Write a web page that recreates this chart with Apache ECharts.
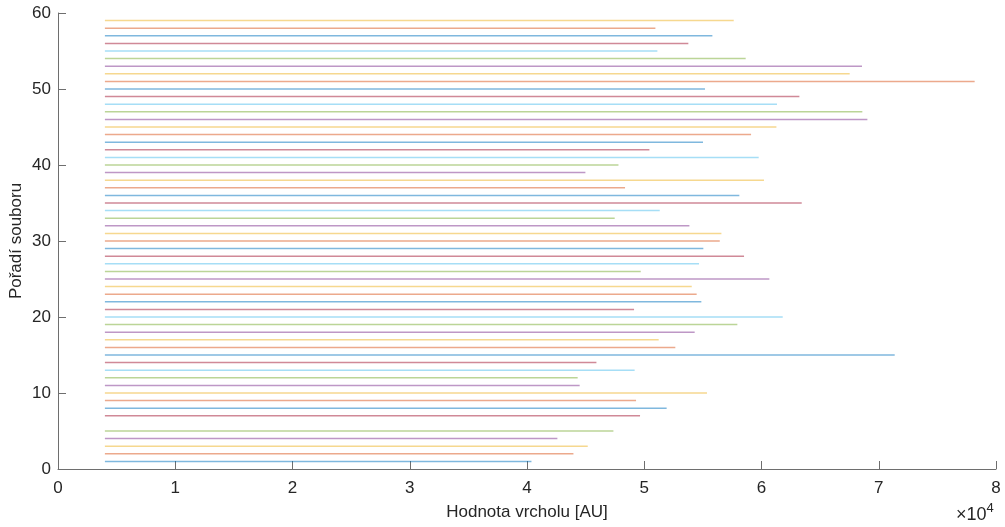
<!DOCTYPE html>
<html>
<head>
<meta charset="utf-8">
<script src="https://cdn.jsdelivr.net/npm/echarts@6/dist/echarts.min.js"></script>
<style>
  html, body { margin: 0; padding: 0; background: #fff; }
  #chart { width: 1005px; height: 527px; }
</style>
</head>
<body>
<div id="chart"></div>
<script>
// File order (y) and peak value (x end) of each horizontal segment
const fileOrder = [1, 2, 3, 4, 5, 7, 8, 9, 10, 11, 12, 13, 14, 15, 16, 17, 18, 19, 20,
  21, 22, 23, 24, 25, 26, 27, 28, 29, 30, 31, 32, 33, 34, 35, 36, 37, 38, 39, 40,
  41, 42, 43, 44, 45, 46, 47, 48, 49, 50, 51, 52, 53, 54, 55, 56, 57, 58, 59];
const peakValues = [40380, 43960, 45180, 42590, 47370, 49640, 51910, 49300, 55350, 44490,
  44320, 49180, 45920, 71360, 52650, 51230, 54300, 57940, 61810,
  49130, 54870, 54470, 54050, 60670, 49700, 54670, 58510, 55040, 56440,
  56580, 53850, 47480, 51320, 63430, 58110, 48360, 60210, 44980, 47800,
  59760, 50440, 55010, 59110, 61270, 69030, 68600, 61320, 63230, 55180,
  78180, 67520, 68570, 58650, 51120, 53760, 55810, 50950, 57630];
const startValue = 4000;
const xTicks = [0, 1, 2, 3, 4, 5, 6, 7, 8];
const yTicks = [0, 10, 20, 30, 40, 50, 60];

// Default MATLAB-like color order, cycled by file index
const palette = ['#0072BD', '#D95319', '#EDB120', '#7E2F8E', '#77AC30', '#4DBEEE', '#A2142F'];

const series = fileOrder.map((y, i) => ({
  type: 'line',
  data: [[startValue, y], [peakValues[i], y]],
  showSymbol: false,
  symbol: 'none',
  silent: true,
  animation: false,
  lineStyle: { color: palette[(y - 1) % palette.length], width: 1.5, opacity: 0.5 }
}));

const font = "'Liberation Sans', Arial, sans-serif";
const axisColor = '#262626';
const chart = echarts.init(document.getElementById('chart'), null, { renderer: 'canvas' });
chart.setOption({
  animation: false,
  grid: { left: 58, right: 9, top: 13, bottom: 58, containLabel: false, outerBoundsMode: 'none' },
  xAxis: {
    type: 'value',
    min: 0, max: 80000, interval: 10000,
    name: 'Hodnota vrcholu [AU]',
    nameLocation: 'middle',
    nameGap: 35,
    nameTextStyle: { fontFamily: font, fontSize: 17, color: axisColor },
    axisLine: { show: true, lineStyle: { color: '#6e6e6e', width: 1 } },
    axisTick: { show: true, inside: true, length: 8, lineStyle: { color: '#6e6e6e' } },
    axisLabel: {
      margin: 11,
      fontFamily: font, fontSize: 17, color: axisColor,
      formatter: v => String(xTicks[Math.round(v / 10000)])
    },
    splitLine: { show: false }
  },
  yAxis: {
    type: 'value',
    min: 0, max: 60, interval: 10,
    name: 'Pořadí souboru',
    nameLocation: 'middle',
    nameGap: 33,
    nameMoveOverlap: false,
    nameRotate: 90,
    nameTextStyle: { fontFamily: font, fontSize: 17, color: axisColor },
    axisLine: { show: true, lineStyle: { color: '#6e6e6e', width: 1 } },
    axisTick: { show: true, inside: true, length: 8, lineStyle: { color: '#6e6e6e' } },
    axisLabel: {
      margin: 7,
      fontFamily: font, fontSize: 17, color: axisColor,
      formatter: v => String(yTicks[Math.round(v / 10)])
    },
    splitLine: { show: false }
  },
  graphic: [{
    type: 'text',
    left: 956,
    top: 502,
    style: {
      text: '{a|×10}{b|4}',
      rich: {
        a: { fontFamily: font, fontSize: 18, fill: axisColor, verticalAlign: 'bottom' },
        b: { fontFamily: font, fontSize: 13, fill: axisColor, verticalAlign: 'top', padding: [0, 0, 9, 0] }
      }
    }
  }],
  series: series
});
</script>
</body>
</html>
